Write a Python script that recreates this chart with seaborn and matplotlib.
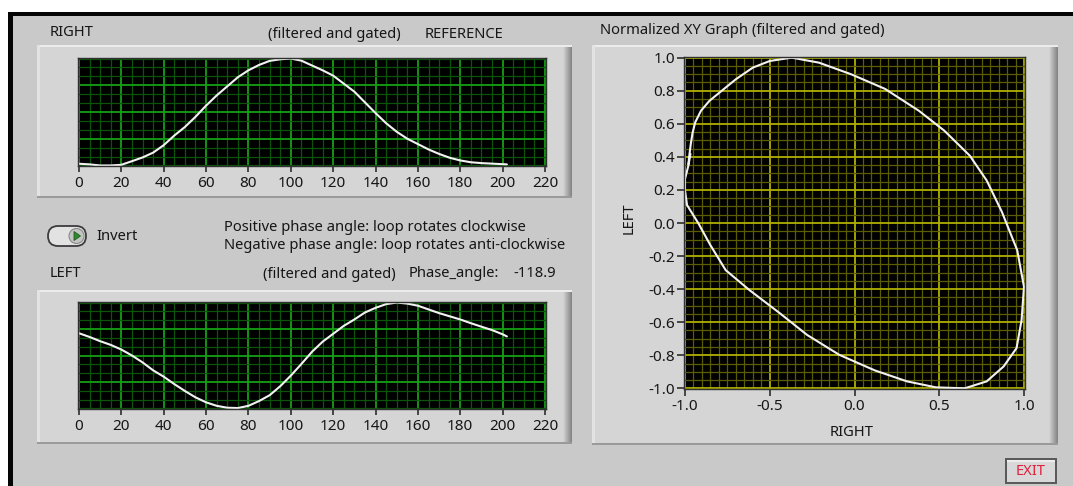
import numpy as np
import pandas as pd
import matplotlib
matplotlib.use("Agg")
import matplotlib.pyplot as plt
import seaborn as sns
from matplotlib.ticker import MultipleLocator, FixedLocator
from matplotlib.transforms import Affine2D
from matplotlib.patches import Rectangle, FancyBboxPatch, Polygon, Circle

# ---- signal data (sample index vs. filtered & gated amplitude) ----
sample = [0, 5, 10, 15, 20, 25, 30, 35, 40, 45, 50, 55, 60, 65, 70, 75, 80, 85,
          90, 95, 100, 105, 110, 115, 120, 125, 130, 135, 140, 145, 150, 155,
          160, 165, 170, 175, 180, 185, 190, 195, 200, 202]
right = [0.016, 0.010, 0.000, 0.000, 0.006, 0.040, 0.075, 0.120, 0.190, 0.280,
         0.360, 0.455, 0.560, 0.655, 0.740, 0.825, 0.890, 0.940, 0.978, 0.993,
         1.000, 0.980, 0.935, 0.890, 0.840, 0.765, 0.690, 0.590, 0.490, 0.395,
         0.315, 0.250, 0.200, 0.150, 0.108, 0.072, 0.047, 0.030, 0.022, 0.017,
         0.012, 0.010]
left = [0.710, 0.675, 0.635, 0.600, 0.556, 0.500, 0.435, 0.360, 0.300, 0.230,
        0.165, 0.105, 0.058, 0.025, 0.007, 0.004, 0.025, 0.070, 0.125, 0.210,
        0.310, 0.420, 0.535, 0.630, 0.705, 0.780, 0.840, 0.906, 0.950, 0.985,
        1.000, 0.990, 0.970, 0.935, 0.900, 0.870, 0.840, 0.805, 0.772, 0.740,
        0.700, 0.680]
phase_angle = -118.9

time_ticks = list(range(0, 221, 20))
xy_xticks = [-1.0, -0.5, 0.0, 0.5, 1.0]
xy_yticks = [-1.0, -0.8, -0.6, -0.4, -0.2, 0.0, 0.2, 0.4, 0.6, 0.8, 1.0]

sns.set_style("dark")
plt.rcParams['font.family'] = ['Noto Sans', 'DejaVu Sans']

W, H = 1073, 486
fig = plt.figure(figsize=(W / 100, H / 100), dpi=100, facecolor='white')
# pixel coordinates, origin at top-left
px = Affine2D().scale(1 / W, -1 / H).translate(0, 1) + fig.transFigure

PANEL = '#C9C9C9'
TXT = '#161616'
FS = 10.6      # caption size
TFS = 11       # scale label size
CURVE = '#F2F2F2'


def rect(x0, y0, x1, y1, color, z=-10):
    fig.add_artist(Rectangle((x0, y0), x1 - x0, y1 - y0, transform=px,
                             facecolor=color, edgecolor='none', zorder=z))


def bezel(x0, y0, x1, y1):
    rect(x0, y0, x1, y1, '#D5D5D5', -9)
    rect(x0, y0, x1, y0 + 2, '#ECECEC', -8)
    rect(x0, y0, x0 + 3, y1, '#E3E3E3', -8)
    shades = np.linspace(0, 1, 9)
    for i, s in enumerate(shades):
        c = (1 - s) * np.array([0.82, 0.82, 0.82]) + s * np.array([0.52, 0.52, 0.52])
        rect(x1 - 9 + i, y0 + 2, x1 - 8 + i, y1, tuple(c), -8)
    rect(x0, y1 - 2, x1, y1, '#9A9A9A', -8)


def ax_at(x0, y0, x1, y1):
    return fig.add_axes([x0 / W, 1 - y1 / H, (x1 - x0) / W, (y1 - y0) / H])


def label(x, y, s, **kw):
    kw.setdefault('fontsize', FS)
    kw.setdefault('color', TXT)
    kw.setdefault('va', 'center')
    fig.text(x, y, s, transform=px, **kw)


# window frame and panel
rect(8, 12, W, H, '#050505', -12)
rect(13, 16, W, H, PANEL, -11)

bezel(37, 45, 572, 198)
bezel(37, 290, 572, 444)
bezel(592, 45, 1058, 445)


def style_time_axis(ax):
    ax.set_facecolor('black')
    ax.set_xlim(-0.47, 220.47)
    ax.set_ylim(-0.005, 1.005)
    ax.xaxis.set_major_locator(FixedLocator(time_ticks))
    ax.xaxis.set_minor_locator(MultipleLocator(5))
    ax.yaxis.set_major_locator(FixedLocator([0.25, 0.5, 0.75]))
    ax.yaxis.set_minor_locator(MultipleLocator(1 / 12))
    ax.grid(which='minor', color='#0B550B', lw=0.9)
    ax.grid(which='major', color='#14A014', lw=1.3)
    ax.set_axisbelow(True)
    ax.tick_params(axis='y', which='both', length=0, labelleft=False)
    ax.tick_params(axis='x', which='minor', length=0)
    ax.tick_params(axis='x', which='major', direction='out', length=4.5,
                   width=1.3, color='#3A3A3A', pad=2.5, labelsize=TFS,
                   labelcolor=TXT, bottom=True)
    for sp in ax.spines.values():
        sp.set_color('#303030')
        sp.set_linewidth(1.0)
        sp.set_visible(True)
    ax.set_xlabel('')
    ax.set_ylabel('')


ax_r = ax_at(78, 58, 546, 166)
sns.lineplot(x=sample, y=right, ax=ax_r, color=CURVE, lw=1.5,
             estimator=None)
style_time_axis(ax_r)

ax_l = ax_at(78, 302, 546, 409)
sns.lineplot(x=sample, y=left, ax=ax_l, color=CURVE, lw=1.5,
             estimator=None)
style_time_axis(ax_l)

# normalized XY loop
r_arr = np.asarray(right)
l_arr = np.asarray(left)
xy = pd.DataFrame({
    'RIGHT': 2 * (r_arr - r_arr.min()) / (r_arr.max() - r_arr.min()) - 1,
    'LEFT': 2 * (l_arr - l_arr.min()) / (l_arr.max() - l_arr.min()) - 1,
})
ax_xy = ax_at(684, 57, 1025, 389)
sns.lineplot(data=xy, x='RIGHT', y='LEFT', ax=ax_xy, sort=False,
             estimator=None, color=CURVE, lw=1.5)
ax_xy.set_facecolor('black')
ax_xy.set_xlim(-1.006, 1.006)
ax_xy.set_ylim(-1.004, 1.004)
ax_xy.xaxis.set_major_locator(FixedLocator(xy_xticks))
ax_xy.xaxis.set_minor_locator(MultipleLocator(0.05))
ax_xy.yaxis.set_major_locator(FixedLocator(xy_yticks))
ax_xy.yaxis.set_minor_locator(MultipleLocator(0.05))
ax_xy.set_xticklabels([f'{v:.1f}' for v in xy_xticks])
ax_xy.set_yticklabels([f'{v:.1f}' for v in xy_yticks])
ax_xy.grid(which='minor', color='#5C5C00', lw=0.9)
ax_xy.grid(which='major', color='#B0B000', lw=1.3)
ax_xy.set_axisbelow(True)
ax_xy.tick_params(which='minor', length=0)
ax_xy.tick_params(which='major', direction='out', length=5, width=1.3,
                  color='#3A3A3A', labelsize=TFS, labelcolor=TXT,
                  left=True, bottom=True)
ax_xy.tick_params(axis='y', pad=1.5)
ax_xy.tick_params(axis='x', pad=2.5)
for sp in ax_xy.spines.values():
    sp.set_color('#303030')
    sp.set_linewidth(1.0)
    sp.set_visible(True)
ax_xy.set_xlabel('RIGHT', fontsize=FS, color=TXT, va='center')
ax_xy.xaxis.set_label_coords((852 - 684) / 341, -(432 - 389) / 332)
ax_xy.set_ylabel('LEFT', fontsize=FS, color=TXT, va='center')
ax_xy.yaxis.set_label_coords((629 - 684) / 341, (389 - 218) / 332)

# captions
label(50, 33, 'RIGHT')
label(268, 34, '(filtered and gated)')
label(425, 34, 'REFERENCE')
label(600, 31, 'Normalized XY Graph (filtered and gated)')
label(224, 227, 'Positive phase angle: loop rotates clockwise')
label(224, 245, 'Negative phase angle: loop rotates anti-clockwise')
label(50, 273, 'LEFT')
label(263, 274, '(filtered and gated)')
label(409, 273, 'Phase_angle:')
label(556, 273, f'{phase_angle:.1f}', ha='right')

# Invert toggle
fig.add_artist(FancyBboxPatch((48, 226), 38, 20, transform=px,
                              boxstyle='round,pad=0,rounding_size=10',
                              facecolor='#E2E2E2', edgecolor='#3C3C3C',
                              lw=1.3, zorder=-5))
fig.add_artist(Circle((76.5, 236), 7.5, transform=px, facecolor='#C4C4C4',
                      edgecolor='#8A8A8A', lw=0.8, zorder=-4))
fig.add_artist(Polygon([(74, 231.5), (74, 240.5), (80.5, 236)], transform=px,
                       facecolor='#2F8A2F', edgecolor='#1F5F1F', lw=0.6,
                       zorder=-3))
label(96, 236, 'Invert')

# EXIT button
rect(1005, 458, 1057, 484, '#5A5A5A', -6)
rect(1007, 460, 1055, 482, '#D8D8D8', -5)
rect(1007, 460, 1055, 462, '#EDEDED', -4)
label(1031, 471.5, 'EXIT', ha='center', color='#E0213D', fontsize=FS)

fig.savefig('out.png', dpi=100, facecolor='white')
